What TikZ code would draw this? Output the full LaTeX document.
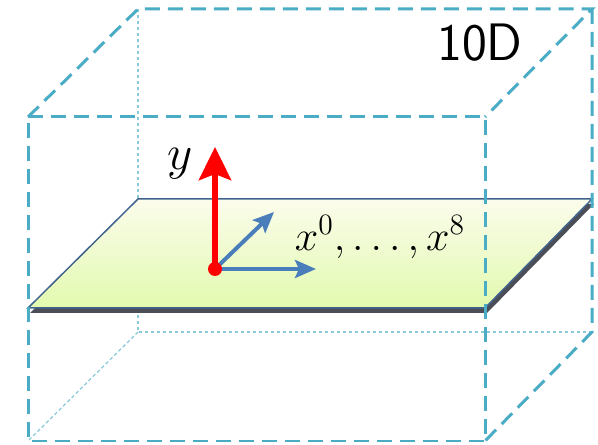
\documentclass[tikz,border=0pt]{standalone}
\usepackage{fix-cm}
\usepackage{tikz}
\usetikzlibrary{arrows.meta}

\definecolor{boxblue}{HTML}{4BACC6}
\definecolor{planeline}{HTML}{41648F}
\definecolor{planeshadow}{HTML}{4B4E57}
\definecolor{planetop}{HTML}{FBFCEC}
\definecolor{planebottom}{HTML}{E2FAAE}
\definecolor{axisblue}{HTML}{4A7EBB}

\begin{document}
\begin{tikzpicture}[x=0.02cm, y=-0.02cm,
    edge/.style={draw=boxblue, line width=0.06cm, dash pattern=on 0.3cm off 0.16cm},
    hidden/.style={draw=boxblue!65, line width=0.025cm, dash pattern=on 0.07cm off 0.05cm},
    yaxis/.style={red, line width=0.13cm, -{Stealth[length=0.66cm, width=0.64cm, inset=0.12cm]}},
    xaxis/.style={axisblue, line width=0.08cm, -{Stealth[length=0.42cm, width=0.36cm, inset=0.08cm]}},
    label/.style={inner sep=0pt}]
    \useasboundingbox (0,0) rectangle (598,445);

    % box corners: front face and back face
    \coordinate (F1) at (28,117);  \coordinate (F2) at (485,117);
    \coordinate (F3) at (485,441); \coordinate (F4) at (28,441);
    \coordinate (B1) at (138,9);   \coordinate (B2) at (592,9);
    \coordinate (B3) at (592,332); \coordinate (B4) at (138,332);

    % brane corners
    \coordinate (P1) at (138,199); \coordinate (P2) at (592,199);
    \coordinate (P3) at (485,308); \coordinate (P4) at (28,308);

    % hidden edges
    \draw[hidden] (B1) -- (B4) -- (B3);
    \draw[hidden] (B4) -- (F4);

    % the brane
    \fill[planeshadow] ([shift={(2,5)}]P1) -- ([shift={(2,5)}]P2) -- ([shift={(2,5)}]P3) -- ([shift={(2,5)}]P4) -- cycle;
    \shade[top color=planetop, bottom color=planebottom] (P1) -- (P2) -- (P3) -- (P4) -- cycle;
    \draw[planeline, line width=0.03cm] (P1) -- (P2) -- (P3) -- (P4) -- cycle;

    % directions
    \coordinate (o) at (215,269);
    \coordinate (ytip) at (215,147);
    \coordinate (xtip) at (316,269);
    \coordinate (ztip) at (274,212);
    \draw[xaxis] (o) -- (xtip);
    \draw[xaxis] (o) -- (ztip);
    \draw[yaxis] (o) -- (ytip);
    \fill[red] (o) circle[radius=0.14cm];

    \node[label] (ylab) at (180,164) {\fontsize{28}{30}\selectfont$y$};
    \node[label] (xlab) at (380,237) {\fontsize{24}{28}\selectfont$x^0,\ldots,x^8$};

    % visible edges
    \draw[edge] (F1) -- (F2) -- (F3) -- (F4) -- cycle;
    \draw[edge] (F1) -- (B1) -- (B2) -- (F2);
    \draw[edge] (B2) -- (B3) -- (F3);

    \node[label] (dim) at (480,43) {\fontsize{30}{34}\selectfont\sffamily 10D};
\end{tikzpicture}
\end{document}
